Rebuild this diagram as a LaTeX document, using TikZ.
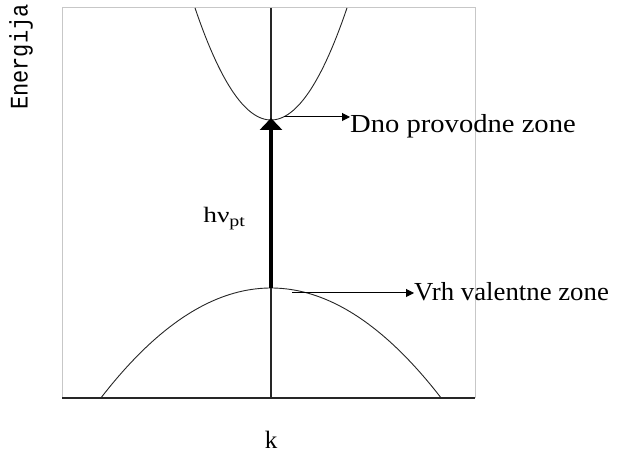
\documentclass[tikz,border=0pt]{standalone}
\usepackage{fontspec}
\setmainfont{Liberation Serif}
\newfontfamily\monofam{Liberation Mono}
\usetikzlibrary{arrows.meta}
\begin{document}
\begin{tikzpicture}[x=1pt,y=1pt,
  frame/.style={draw=black!22,line width=1pt},
  axis/.style={draw=black!85,line width=1.8pt},
  band/.style={draw=black!85,line width=0.9pt},
  pointer/.style={draw=black,line width=1pt,-{Triangle[length=8pt,width=8pt]}},
  transition/.style={draw=black,line width=3.5pt,-{Triangle[length=12pt,width=22pt]}},
  lbl/.style={inner sep=0pt,anchor=base west,font=\fontsize{26}{30}\selectfont}]
\useasboundingbox (0,0) rectangle (623,454);
% frame
\draw[frame] (62,56) rectangle (475,446);
% axes
\coordinate (axtop) at (271,446);
\coordinate (axbot) at (271,56);
\coordinate (axl) at (62,56);
\coordinate (axr) at (475,56);
\draw[draw=black!85,line width=1.4pt] (axtop) -- (axbot);
\draw[axis] (axl) -- (axr);
% conduction band
\draw[band,domain=-7.6:7.6,samples=60] plot ({271+10*\x},{334+1.94*\x*\x});
% valence band
\draw[band,domain=-17:17,samples=80] plot ({271+10*\x},{166-0.38*\x*\x});
% transition arrow
\coordinate (vtop) at (271,166);
\coordinate (cbot) at (271,336);
\draw[transition] (vtop) -- (cbot);
% pointers
\coordinate (p1s) at (284,337);
\node[lbl,xscale=1.1] (dno) at (350,321) {Dno provodne zone};
\draw[pointer] (p1s) -- (p1s -| dno.west);
\coordinate (p2s) at (292,161);
\node[lbl,xscale=1.03] (vrh) at (414,153) {Vrh valentne zone};
\draw[pointer] (p2s) -- (p2s -| vrh.west);
% labels
\node[inner sep=0pt,anchor=base west,xscale=1.25,font=\fontsize{22}{26}\selectfont] (hnu) at (203,231) {hν\raisebox{-4pt}{\fontsize{16}{18}\selectfont pt}};
\node[inner sep=0pt,anchor=base,font=\fontsize{25}{28}\selectfont] (k) at (271,5) {k};
\node[inner sep=0pt,rotate=90,font=\monofam\fontsize{22}{26}\selectfont] (en) at (21,397) {\scalebox{1}[1.15]{Energija}};
\end{tikzpicture}
\end{document}
